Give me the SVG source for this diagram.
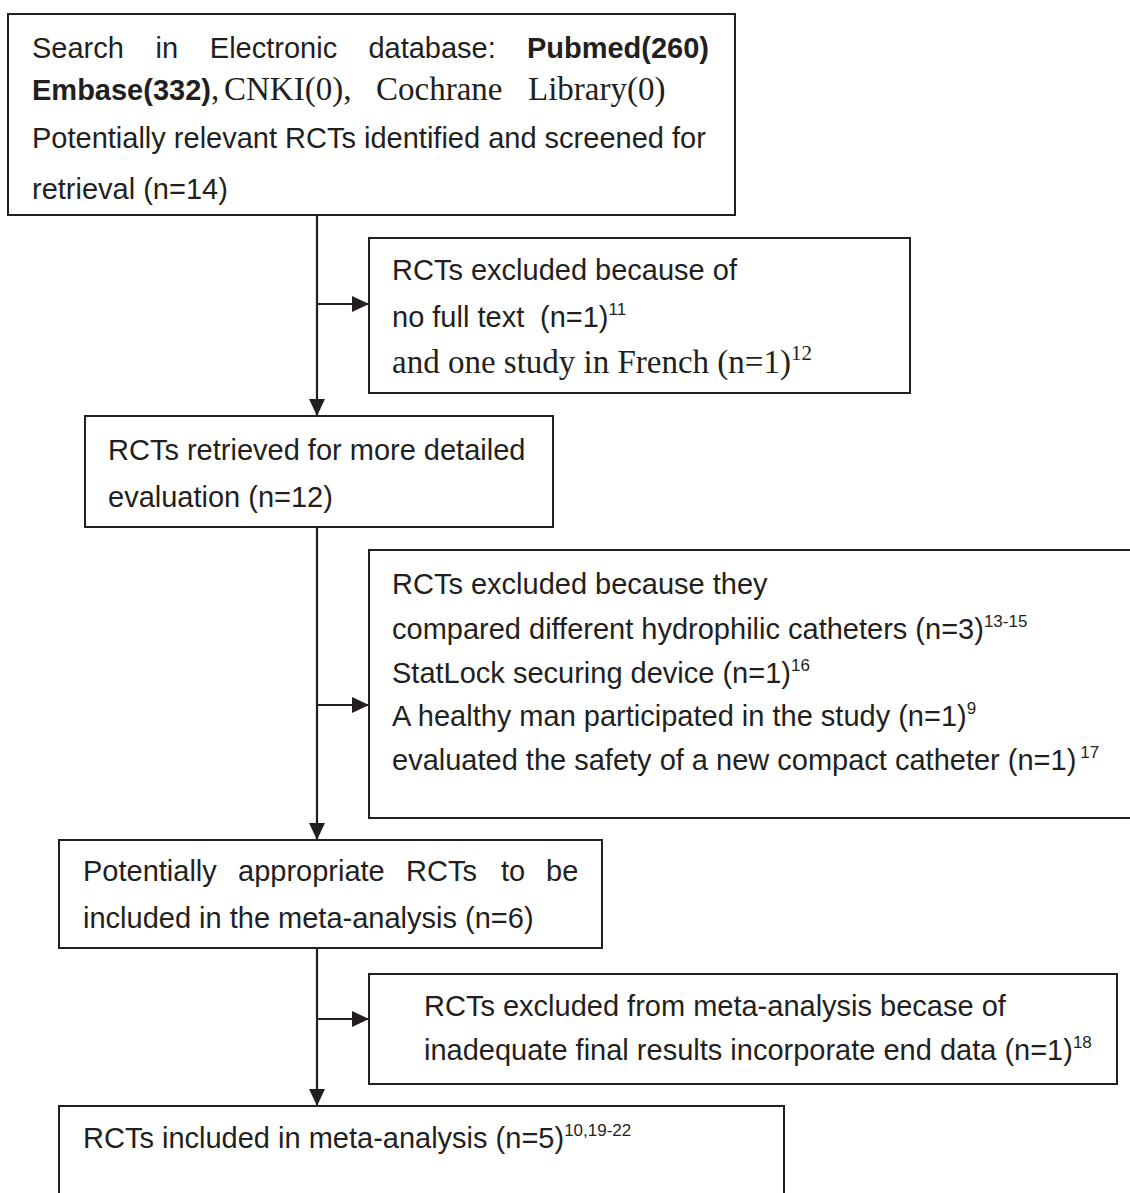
<svg xmlns="http://www.w3.org/2000/svg" width="1130" height="1193" viewBox="0 0 1130 1193">
<defs>
<style>
.box{fill:#fff;stroke:#231f20;stroke-width:2}
.ln{fill:none;stroke:#231f20;stroke-width:2.2}
.t{font-family:"Liberation Sans",Arial,sans-serif;font-size:29px;fill:#231f20}
.b{font-weight:bold}
.tm{font-family:"Liberation Serif","Times New Roman",serif;font-size:33px;fill:#231f20}
.sup{font-size:17px}
.supT{font-size:21px}
</style>
<marker id="ah" markerUnits="userSpaceOnUse" markerWidth="17" markerHeight="16" refX="17" refY="8" orient="auto">
<path d="M0,0 L17,8 L0,16 Z" fill="#231f20"/>
</marker>
</defs>
<rect width="1130" height="1193" fill="#fff"/>

<g id="connectors">
<path class="ln" d="M317,215 V416" marker-end="url(#ah)"/>
<path class="ln" d="M317,304 H369" marker-end="url(#ah)"/>
<path class="ln" d="M317,527 V840" marker-end="url(#ah)"/>
<path class="ln" d="M317,705 H369" marker-end="url(#ah)"/>
<path class="ln" d="M317,948 V1106" marker-end="url(#ah)"/>
<path class="ln" d="M317,1019 H369" marker-end="url(#ah)"/>
</g>

<g id="search">
<rect class="box" x="8" y="14" width="727" height="201"/>
<text class="t" y="58"><tspan x="32">Search</tspan><tspan x="155.6">in</tspan><tspan x="209.8">Electronic</tspan><tspan x="368.4">database:</tspan><tspan x="709" class="b" text-anchor="end">Pubmed(260)</tspan></text>
<text y="100"><tspan x="32" class="t b">Embase(332)</tspan><tspan class="tm">,</tspan><tspan x="224" class="tm">CNKI(0),</tspan><tspan x="376" class="tm">Cochrane</tspan><tspan x="528" class="tm">Library(0)</tspan></text>
<text class="t" x="32" y="148">Potentially relevant RCTs identified and screened for</text>
<text class="t" x="32" y="199">retrieval (n=14)</text>
</g>

<g id="excl1">
<rect class="box" x="369" y="238" width="541" height="155"/>
<text class="t" x="392" y="280">RCTs excluded because of</text>
<text class="t" y="327"><tspan x="392">no full text</tspan><tspan x="540">(n=1)</tspan><tspan class="sup" dy="-12">11</tspan></text>
<text class="tm" x="392" y="373">and one study in French (n=1)<tspan class="supT" dy="-13">12</tspan></text>
</g>

<g id="retrieved">
<rect class="box" x="85" y="416" width="468" height="111"/>
<text class="t" x="108" y="460">RCTs retrieved for more detailed</text>
<text class="t" x="108" y="507">evaluation (n=12)</text>
</g>

<g id="excl2">
<rect class="box" x="369" y="550" width="762" height="268"/>
<text class="t" x="392" y="594">RCTs excluded because they</text>
<text class="t" x="392" y="639">compared different hydrophilic catheters (n=3)<tspan class="sup" dy="-12">13-15</tspan></text>
<text class="t" x="392" y="683">StatLock securing device (n=1)<tspan class="sup" dy="-12">16</tspan></text>
<text class="t" x="392" y="726">A healthy man participated in the study (n=1)<tspan class="sup" dy="-12">9</tspan></text>
<text class="t" x="392" y="770">evaluated the safety of a new compact catheter (n=1)<tspan class="sup" dy="-12" dx="4">17</tspan></text>
</g>

<g id="appropriate">
<rect class="box" x="59" y="840" width="543" height="108"/>
<text class="t" y="881"><tspan x="83">Potentially</tspan><tspan x="238">appropriate</tspan><tspan x="406">RCTs</tspan><tspan x="501">to</tspan><tspan x="546">be</tspan></text>
<text class="t" x="83" y="928">included in the meta-analysis (n=6)</text>
</g>

<g id="excl3">
<rect class="box" x="369" y="974" width="748" height="110"/>
<text class="t" x="424" y="1016">RCTs excluded from meta-analysis becase of</text>
<text class="t" x="424" y="1060">inadequate final results incorporate end data (n=1)<tspan class="sup" dy="-12">18</tspan></text>
</g>

<g id="included">
<rect class="box" x="59" y="1106" width="725" height="120"/>
<text class="t" x="83" y="1148">RCTs included in meta-analysis (n=5)<tspan class="sup" dy="-12">10,19-22</tspan></text>
</g>
</svg>
